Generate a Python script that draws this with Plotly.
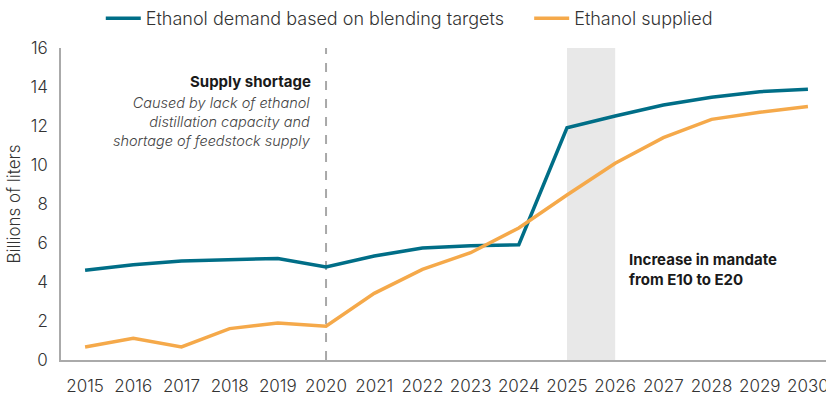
import plotly.graph_objects as go

# Years shown on the x axis
years = list(range(2015, 2031))

# Ethanol demand implied by blending targets (billions of liters)
demand = [4.60, 4.89, 5.08, 5.13, 5.21, 4.77, 5.33, 5.74,
          5.86, 5.91, 11.91, 12.51, 13.08, 13.47, 13.76, 13.88]

# Ethanol actually supplied (billions of liters)
supplied = [0.67, 1.11, 0.67, 1.61, 1.90, 1.73, 3.42, 4.65,
            5.50, 6.77, 8.46, 10.09, 11.40, 12.34, 12.70, 13.00]

y_ticks = [0, 2, 4, 6, 8, 10, 12, 14, 16]

TEAL = "#006E87"
ORANGE = "#F5A94A"
FONT = "Inter"
TEXT = "#333333"

fig = go.Figure()
fig.add_trace(go.Scatter(
    x=years, y=demand, mode="lines",
    name="Ethanol demand based on blending targets",
    line=dict(color=TEAL, width=3.5), legend="legend",
))
fig.add_trace(go.Scatter(
    x=years, y=supplied, mode="lines",
    name="Ethanol supplied",
    line=dict(color=ORANGE, width=3.5), legend="legend2",
))

# Shaded year of the E10 -> E20 mandate change
fig.add_shape(type="rect", xref="x", yref="y", x0=2025, x1=2026, y0=0, y1=16,
              fillcolor="#E8E8E8", line=dict(width=0), layer="below")
# Divider marking the end of the supply-shortage period
fig.add_shape(type="line", xref="x", yref="y", x0=2020, x1=2020, y0=0, y1=16,
              line=dict(color="#A8A8A8", width=2, dash="dash"), layer="below")

fig.add_annotation(x=2019.72, y=14.26, xref="x", yref="y", xanchor="right",
                   showarrow=False, text="<b>Supply shortage</b>",
                   font=dict(family=FONT, size=15, color="#1a1a1a"))
fig.add_annotation(x=2019.72, y=12.23, xref="x", yref="y", xanchor="right",
                   showarrow=False, align="right",
                   text="<i>Caused by lack of ethanol<br>distillation capacity and<br>shortage of feedstock supply</i>",
                   font=dict(family=FONT, size=14.5, color="#444444", weight=300))
fig.add_annotation(x=2026.24, y=4.64, xref="x", yref="y", xanchor="left",
                   showarrow=False, align="left",
                   text="<b>Increase in mandate<br>from E10 to E20</b>",
                   font=dict(family=FONT, size=15, color="#1a1a1a"))

legend_style = dict(orientation="h", xanchor="left", y=1.0, yanchor="top",
                    yref="container", font=dict(family=FONT, size=18, color=TEXT, weight=300),
                    itemwidth=35, tracegroupgap=0)

fig.update_layout(
    width=826, height=396,
    margin=dict(l=61, r=0, t=48, b=36, autoexpand=False),
    paper_bgcolor="white", plot_bgcolor="white",
    font=dict(family=FONT, size=16, color=TEXT),
    showlegend=True,
    legend=dict(x=0.052, **legend_style),
    legend2=dict(x=0.612, **legend_style),
    xaxis=dict(range=[2014.5, 2030.375], tickvals=years, ticktext=[str(y) for y in years],
               showgrid=False, zeroline=False, showline=True, linecolor="#AAAAAA",
               linewidth=1.5, ticks="outside", ticklen=10, tickcolor="rgba(0,0,0,0)",
               ticklabeloverflow="allow", automargin=False,
               tickfont=dict(family=FONT, size=17, color=TEXT, weight=300)),
    yaxis=dict(range=[0, 16], tickvals=y_ticks, showgrid=False, zeroline=False,
               showline=True, linecolor="#AAAAAA", linewidth=1.5, automargin=False,
               ticks="outside", ticklen=8, tickcolor="rgba(0,0,0,0)",
               title=dict(text="Billions of liters", standoff=6,
                          font=dict(family=FONT, size=17, color=TEXT, weight=300)),
               tickfont=dict(family=FONT, size=17, color=TEXT, weight=300)),
)

fig.write_html("out.html")
